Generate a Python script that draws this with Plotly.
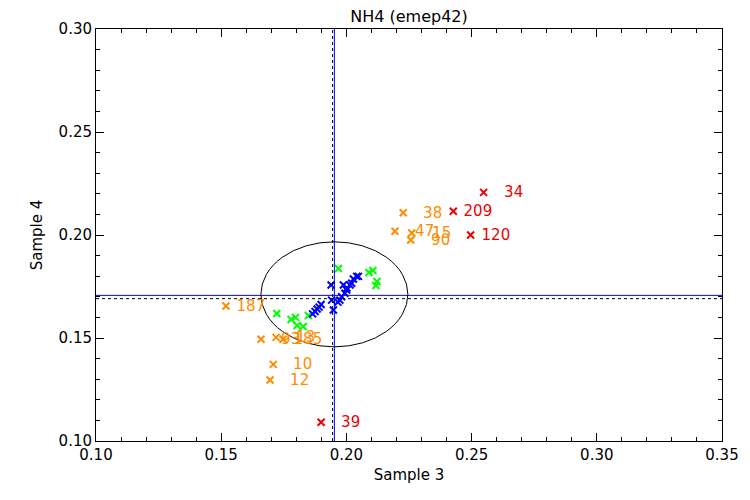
import plotly.graph_objects as go

# ---- data ----
blue_x = [0.1865, 0.1875, 0.1883, 0.1891, 0.1899, 0.1939, 0.1941, 0.1948, 0.1974, 0.1981,
          0.1988, 0.1994, 0.2001, 0.2014, 0.2021, 0.2028, 0.2041, 0.2048, 0.1966, 0.2002]
blue_y = [0.1617, 0.1629, 0.1641, 0.1650, 0.1663, 0.1757, 0.1684, 0.1636, 0.1684, 0.1700,
          0.1757, 0.1717, 0.1733, 0.1757, 0.1766, 0.1786, 0.1799, 0.1799, 0.1674, 0.1743]

green_x = [0.1722, 0.1779, 0.1797, 0.1803, 0.1827, 0.1848, 0.1968, 0.2090, 0.2106, 0.2122, 0.2118]
green_y = [0.1619, 0.1590, 0.1600, 0.1561, 0.1556, 0.1609, 0.1837, 0.1818, 0.1828, 0.1774, 0.1755]

orange_x = [0.1519, 0.1659, 0.1719, 0.1747, 0.1708, 0.1695, 0.2227, 0.2194, 0.2261, 0.2257]
orange_y = [0.1655, 0.1494, 0.1503, 0.1494, 0.1372, 0.1296, 0.2108, 0.2018, 0.2010, 0.1976]
orange_lbl = ["187", "93", "13", "185", "10", "12", "38", "47", "15", "90"]

red_x = [0.2548, 0.2427, 0.2496, 0.1899]
red_y = [0.2207, 0.2115, 0.2000, 0.1091]
red_lbl = ["34", "209", "120", "39"]

ref_x = 0.1952      # blue vertical line
ref_x_dot = 0.1945  # dotted vertical line
ref_y = 0.1707      # blue horizontal line
ref_y_dot = 0.1691  # dotted horizontal line
ell_center = (0.1952, 0.1712)
ell_radius = (0.02935, 0.02549)

title = "NH4 (emep42)"
x_title = "Sample 3"
y_title = "Sample 4"

# ---- styles ----
FONT = "DejaVu Sans"
BLUE = "#0000ff"
GREEN = "#00ff00"
ORANGE = "#ff8c00"
RED = "#ee0000"

fig = go.Figure()

def add_pts(xs, ys, color):
    fig.add_trace(go.Scatter(
        x=xs, y=ys, mode="markers",
        marker=dict(symbol="x-thin", size=7, line=dict(color=color, width=2)),
        showlegend=False, hoverinfo="skip"))

add_pts(orange_x, orange_y, ORANGE)
add_pts(red_x, red_y, RED)
add_pts(green_x, green_y, GREEN)
add_pts(blue_x, blue_y, BLUE)

def add_labels(xs, ys, labels, color):
    for x, y, t in zip(xs, ys, labels):
        padded = "\u2007" * (4 - len(t)) + t
        fig.add_annotation(x=x, y=y, text=padded, showarrow=False,
                           xanchor="left", yanchor="middle", xshift=-1,
                           font=dict(family=FONT, size=15, color=color))

add_labels(orange_x, orange_y, orange_lbl, ORANGE)
add_labels(red_x, red_y, red_lbl, RED)

# reference lines
fig.add_shape(type="line", xref="x", yref="paper", x0=ref_x, x1=ref_x, y0=0, y1=1,
              line=dict(color=BLUE, width=1))
fig.add_shape(type="line", xref="x", yref="paper", x0=ref_x_dot, x1=ref_x_dot, y0=0, y1=1,
              line=dict(color="black", width=1, dash="dot"))
fig.add_shape(type="line", xref="paper", yref="y", x0=0, x1=1, y0=ref_y, y1=ref_y,
              line=dict(color=BLUE, width=1))
fig.add_shape(type="line", xref="paper", yref="y", x0=0, x1=1, y0=ref_y_dot, y1=ref_y_dot,
              line=dict(color="black", width=1, dash="dot"))
# ellipse
fig.add_shape(type="circle", xref="x", yref="y",
              x0=ell_center[0] - ell_radius[0], x1=ell_center[0] + ell_radius[0],
              y0=ell_center[1] - ell_radius[1], y1=ell_center[1] + ell_radius[1],
              line=dict(color="black", width=1))

axis_common = dict(
    showline=True, linecolor="black", linewidth=1, mirror="ticks",
    ticks="inside", ticklen=8, tickwidth=1, tickcolor="black",
    showgrid=False, zeroline=False, tickformat=".2f", dtick=0.05,
    tickfont=dict(family=FONT, size=15, color="black"),
    minor=dict(ticks="inside", ticklen=4, dtick=0.01, tickcolor="black", showgrid=False),
)

fig.update_xaxes(range=[0.10, 0.35], tick0=0.10,
                 title=dict(text=x_title, font=dict(family=FONT, size=15, color="black"), standoff=6),
                 **axis_common)
fig.update_yaxes(range=[0.10, 0.30], tick0=0.10,
                 title=dict(text=y_title, font=dict(family=FONT, size=15, color="black"), standoff=12),
                 **axis_common)

# page body adds an 8px offset, so the figure is sized to fit the remaining window
fig.update_layout(
    width=742, height=492,
    margin=dict(l=88, r=28, t=21, b=59),
    paper_bgcolor="white", plot_bgcolor="white",
    title=dict(text=title, x=0.5, xref="paper", xanchor="center", y=1.0, yanchor="top",
               pad=dict(t=3), font=dict(family=FONT, size=16, color="black")),
)

fig.write_html("out.html")
